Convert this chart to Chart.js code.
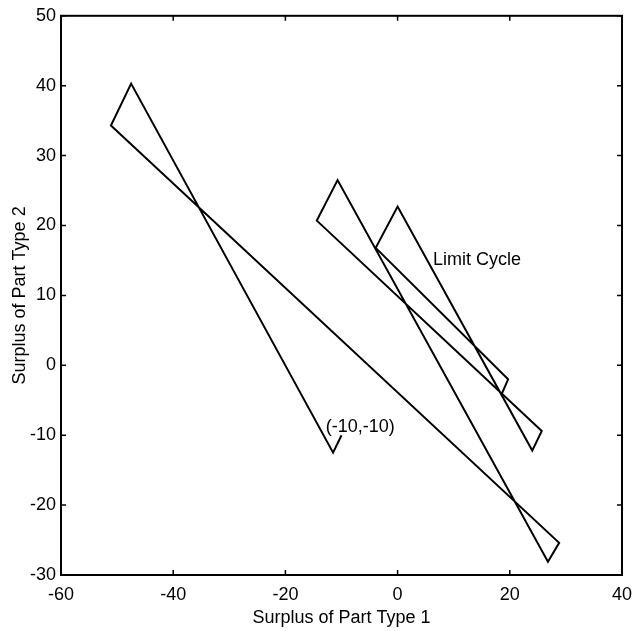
<!DOCTYPE html>
<html>
<head>
<meta charset="utf-8">
<script src="https://cdn.jsdelivr.net/npm/chart.js@4/dist/chart.umd.min.js"></script>
<style>
  html, body { margin: 0; padding: 0; background: #fff; }
  #wrap { width: 642px; height: 631px; }
</style>
</head>
<body>
<div id="wrap"><canvas id="myChart"></canvas></div>
<script>
// trajectory from (-10,-10) settling into the limit cycle
var xValues = [-10, -11.5, -47.5, -51.1, 28.8, 26.8, -10.7, -14.4, 25.7, 24.0, 0.0, -3.9, 19.7, 18.5, 0.0];
var yValues = [-10, -12.5, 40.3, 34.3, -25.4, -28.1, 26.5, 20.7, -9.4, -12.2, 22.7, 16.8, -2.0, -4.2, 22.7];

var xTicks = [-60, -40, -20, 0, 20, 40];
var yTicks = [-30, -20, -10, 0, 10, 20, 30, 40, 50];

// text notes placed in data units
var noteText = ["Limit Cycle", "(-10,-10)"];
var noteX = [6.3, -12.8];
var noteY = [15.1, -8.8];

var pts = [];
for (var i = 0; i < xValues.length; i++) {
  pts.push({x: xValues[i], y: yValues[i]});
}

var fontName = "'Liberation Sans', Arial, sans-serif";

// full box and inward ticks like the original
var framePlugin = {
  id: 'frame',
  afterDraw: function(chart) {
    var ctx = chart.ctx;
    var a = chart.chartArea;
    var xs = chart.scales.x, ys = chart.scales.y;
    ctx.save();
    ctx.strokeStyle = '#000';
    ctx.lineWidth = 2;
    ctx.strokeRect(a.left, a.top, a.right - a.left, a.bottom - a.top);
    ctx.lineWidth = 1.5;
    ctx.beginPath();
    xTicks.forEach(function(v) {
      var px = xs.getPixelForValue(v);
      ctx.moveTo(px, a.bottom); ctx.lineTo(px, a.bottom - 5);
      ctx.moveTo(px, a.top); ctx.lineTo(px, a.top + 5);
    });
    yTicks.forEach(function(v) {
      var py = ys.getPixelForValue(v);
      ctx.moveTo(a.left, py); ctx.lineTo(a.left + 5, py);
      ctx.moveTo(a.right, py); ctx.lineTo(a.right - 5, py);
    });
    ctx.stroke();
    ctx.fillStyle = '#000';
    ctx.font = "18px " + fontName;
    ctx.textBaseline = 'middle';
    ctx.textAlign = 'left';
    for (var j = 0; j < noteText.length; j++) {
      ctx.fillText(noteText[j], xs.getPixelForValue(noteX[j]), ys.getPixelForValue(noteY[j]));
    }
    ctx.restore();
  }
};

new Chart("myChart", {
  type: "scatter",
  data: {
    datasets: [{
      data: pts,
      showLine: true,
      fill: false,
      borderColor: "#000",
      borderWidth: 2,
      pointRadius: 0,
      tension: 0
    }]
  },
  plugins: [framePlugin],
  options: {
    responsive: true,
    maintainAspectRatio: false,
    animation: false,
    layout: { padding: { top: 12, right: 20, left: 0, bottom: 0 } },
    plugins: {
      legend: { display: false },
      tooltip: { enabled: false }
    },
    scales: {
      x: {
        type: "linear",
        min: -60, max: 40,
        afterBuildTicks: function(s) { s.ticks = xTicks.map(function(v) { return {value: v}; }); },
        afterFit: function(s) { s.height = 56; },
        grid: { display: false, drawTicks: false },
        border: { display: false },
        ticks: { color: "#000", font: { family: fontName, size: 18 }, padding: 9, maxRotation: 0, autoSkip: false },
        title: { display: true, text: "Surplus of Part Type 1", color: "#000", font: { family: fontName, size: 18 }, padding: { top: 0, bottom: 2 } }
      },
      y: {
        type: "linear",
        min: -30, max: 50,
        afterBuildTicks: function(s) { s.ticks = yTicks.map(function(v) { return {value: v}; }); },
        afterFit: function(s) { s.width = 61; },
        grid: { display: false, drawTicks: false },
        border: { display: false },
        ticks: { color: "#000", font: { family: fontName, size: 18 }, padding: 5, autoSkip: false },
        title: { display: true, text: "Surplus of Part Type 2", color: "#000", font: { family: fontName, size: 18 }, padding: { top: 9, bottom: 0 } }
      }
    }
  }
});
</script>
</body>
</html>
